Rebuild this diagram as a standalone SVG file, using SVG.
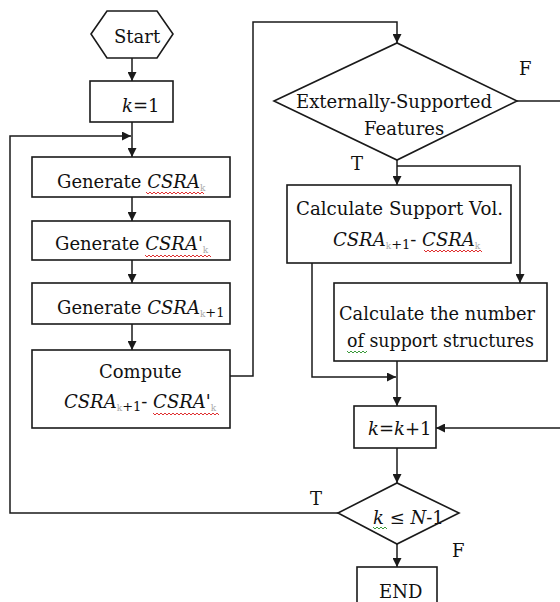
<svg xmlns="http://www.w3.org/2000/svg" width="560" height="602" viewBox="0 0 560 602">
<style>
.box{fill:#fff;stroke:#1a1a1a;stroke-width:1.6}
.ln{fill:none;stroke:#1a1a1a;stroke-width:1.5}
.t{font-family:"DejaVu Serif","Liberation Serif",serif;font-size:18px;fill:#111}
.i{font-style:italic}
.sk{font-size:9px;fill:#aaa}
.sp{font-size:13px}
.wr{fill:none;stroke:#e03030;stroke-width:1}
.wg{fill:none;stroke:#3a9a3a;stroke-width:1}
</style>
<defs>
<marker id="ah" viewBox="0 0 10 10" refX="10" refY="5" markerWidth="9" markerHeight="9" orient="auto" markerUnits="userSpaceOnUse"><path d="M0,0 L10,5 L0,10 z" fill="#1a1a1a"/></marker>
</defs>
<rect width="560" height="602" fill="#fff"/>
<g id="connectors">
<path class="ln" d="M132,58 V81" marker-end="url(#ah)"/>
<path class="ln" d="M132,122 V157" marker-end="url(#ah)"/>
<path class="ln" d="M338,513 H10 V136 H131" marker-end="url(#ah)"/>
<path class="ln" d="M132,197 V221" marker-end="url(#ah)"/>
<path class="ln" d="M132,260 V283" marker-end="url(#ah)"/>
<path class="ln" d="M132,324 V350" marker-end="url(#ah)"/>
<path class="ln" d="M230,376 H253 V22 H397 V43" marker-end="url(#ah)"/>
<path class="ln" d="M517,101 H562"/>
<path class="ln" d="M397,160 V185" marker-end="url(#ah)"/>
<path class="ln" d="M397,166 H520 V283" marker-end="url(#ah)"/>
<path class="ln" d="M312,263 V377 H396" marker-end="url(#ah)"/>
<path class="ln" d="M397,361 V406" marker-end="url(#ah)"/>
<path class="ln" d="M562,428 H436" marker-end="url(#ah)"/>
<path class="ln" d="M397,448 V483" marker-end="url(#ah)"/>
<path class="ln" d="M397,544 V567" marker-end="url(#ah)"/>
</g>
<g id="start">
<polygon class="box" points="91,34 107,11 157,11 173,34 157,58 107,58"/>
<text class="t" x="114" y="43">Start</text>
</g>
<g id="k1">
<rect class="box" x="90" y="81" width="83" height="41"/>
<text class="t" x="122" y="112"><tspan class="i">k</tspan>=1</text>
</g>
<g id="gen1">
<rect class="box" x="32" y="157" width="198" height="40"/>
<text class="t" x="57" y="188">Generate <tspan class="i">CSRA</tspan><tspan class="sk" dy="3">k</tspan></text>
<path class="wr" d="M146,192 l2,2 l2,-2 l2,2 l2,-2 l2,2 l2,-2 l2,2 l2,-2 l2,2 l2,-2 l2,2 l2,-2 l2,2 l2,-2 l2,2 l2,-2 l2,2 l2,-2 l2,2 l2,-2 l2,2 l2,-2 l2,2 l2,-2 l2,2 l2,-2 l2,2 l2,-2 l2,2"/>
</g>
<g id="gen2">
<rect class="box" x="32" y="221" width="198" height="39"/>
<text class="t" x="55" y="250">Generate <tspan class="i">CSRA'</tspan><tspan class="sk" dy="3">k</tspan></text>
<path class="wr" d="M145,255 l2,2 l2,-2 l2,2 l2,-2 l2,2 l2,-2 l2,2 l2,-2 l2,2 l2,-2 l2,2 l2,-2 l2,2 l2,-2 l2,2 l2,-2 l2,2 l2,-2 l2,2 l2,-2 l2,2 l2,-2 l2,2 l2,-2 l2,2 l2,-2 l2,2 l2,-2 l2,2 l2,-2 l2,2 l2,-2 l2,2"/>
</g>
<g id="gen3">
<rect class="box" x="32" y="283" width="198" height="41"/>
<text class="t" x="57" y="314">Generate <tspan class="i">CSRA</tspan><tspan class="sk" dy="3">k</tspan><tspan class="sp" dy="0">+1</tspan></text>
</g>
<g id="compute">
<rect class="box" x="32" y="350" width="198" height="78"/>
<text class="t" x="99" y="378">Compute</text>
<text class="t" x="64" y="408"><tspan class="i">CSRA</tspan><tspan class="sk" dy="3">k</tspan><tspan class="sp">+1</tspan><tspan dy="-3">- </tspan><tspan class="i">CSRA'</tspan><tspan class="sk" dy="3">k</tspan></text>
<path class="wr" d="M153,413 l2,2 l2,-2 l2,2 l2,-2 l2,2 l2,-2 l2,2 l2,-2 l2,2 l2,-2 l2,2 l2,-2 l2,2 l2,-2 l2,2 l2,-2 l2,2 l2,-2 l2,2 l2,-2 l2,2 l2,-2 l2,2 l2,-2 l2,2 l2,-2 l2,2 l2,-2 l2,2 l2,-2 l2,2 l2,-2 l2,2"/>
</g>
<g id="ext">
<polygon class="box" points="274,101 397,43 517,101 397,160"/>
<text class="t" x="296" y="108" textLength="196" lengthAdjust="spacingAndGlyphs">Externally-Supported</text>
<text class="t" x="364" y="135">Features</text>
<text class="t" x="519" y="75">F</text>
<text class="t" x="351" y="170">T</text>
</g>
<g id="calcvol">
<rect class="box" x="287" y="185" width="224" height="78"/>
<text class="t" x="296" y="215" textLength="207" lengthAdjust="spacingAndGlyphs">Calculate Support Vol.</text>
<text class="t" x="333" y="246"><tspan class="i">CSRA</tspan><tspan class="sk" dy="3">k</tspan><tspan class="sp">+1</tspan><tspan dy="-3">- </tspan><tspan class="i">CSRA</tspan><tspan class="sk" dy="3">k</tspan></text>
<path class="wr" d="M424,250 l2,2 l2,-2 l2,2 l2,-2 l2,2 l2,-2 l2,2 l2,-2 l2,2 l2,-2 l2,2 l2,-2 l2,2 l2,-2 l2,2 l2,-2 l2,2 l2,-2 l2,2 l2,-2 l2,2 l2,-2 l2,2 l2,-2 l2,2 l2,-2 l2,2 l2,-2 l2,2"/>
</g>
<g id="calcnum">
<rect class="box" x="334" y="283" width="213" height="78"/>
<text class="t" x="339" y="320" textLength="196" lengthAdjust="spacingAndGlyphs">Calculate the number</text>
<text class="t" x="347" y="347" textLength="187" lengthAdjust="spacingAndGlyphs">of support structures</text>
<path class="wg" d="M347,351 l2,2 l2,-2 l2,2 l2,-2 l2,2 l2,-2 l2,2 l2,-2 l2,2 l2,-2"/>
</g>
<g id="kinc">
<rect class="box" x="354" y="406" width="82" height="42"/>
<text class="t" x="368" y="435"><tspan class="i">k</tspan>=<tspan class="i">k</tspan>+1</text>
</g>
<g id="cond">
<polygon class="box" points="338,513 397,483 459,513 397,544"/>
<text class="t" x="373" y="524"><tspan class="i">k</tspan> ≤ <tspan class="i">N</tspan>-1</text>
<path class="wg" d="M373,527 l2,2 l2,-2 l2,2 l2,-2 l2,2 l2,-2 l2,2"/>
<text class="t" x="310" y="505">T</text>
<text class="t" x="452" y="557">F</text>
</g>
<g id="end">
<rect class="box" x="357" y="567" width="80" height="45"/>
<text class="t" x="379" y="598">END</text>
</g>
</svg>
